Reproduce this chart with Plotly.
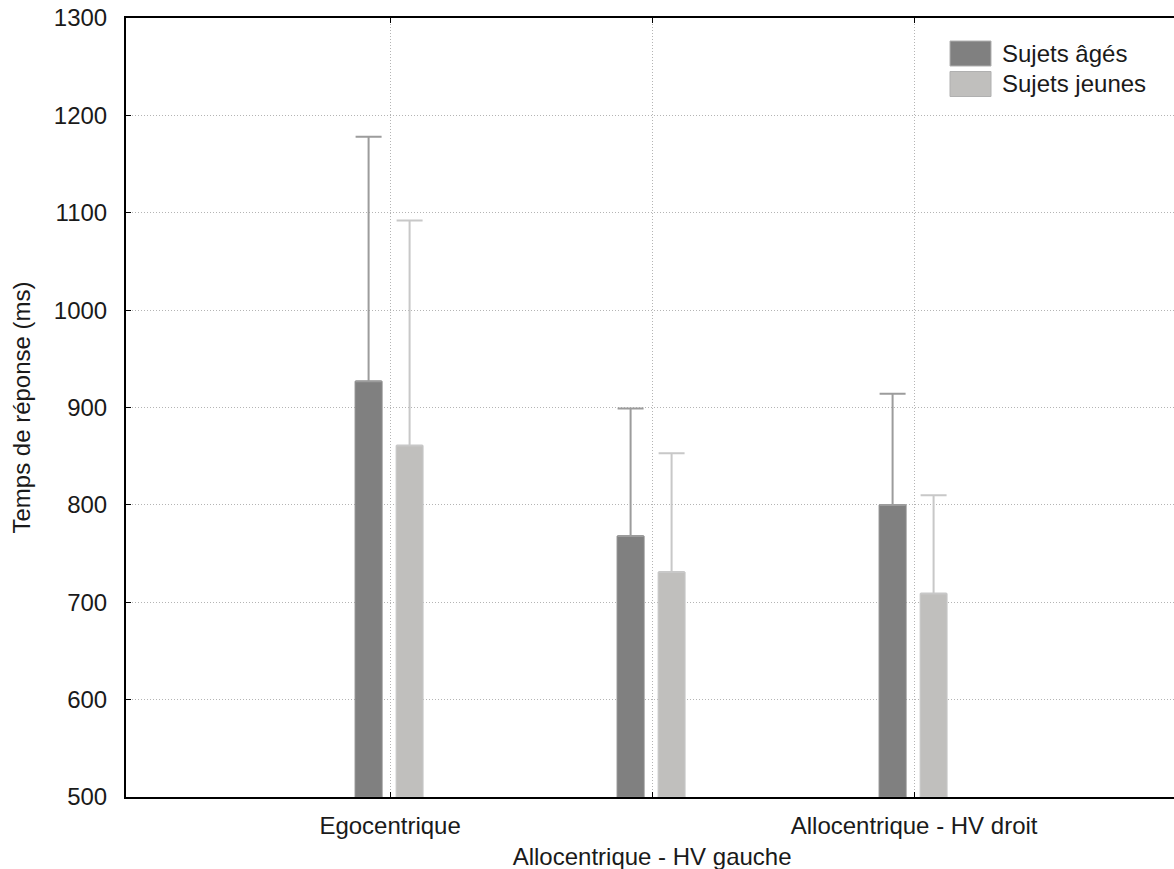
import plotly.graph_objects as go

# ---- data ----
categories = ["Egocentrique", "Allocentrique - HV gauche", "Allocentrique - HV droit"]
tick_text = ["Egocentrique", "<br>Allocentrique - HV gauche", "Allocentrique - HV droit"]
series_names = ["Sujets âgés", "Sujets jeunes"]
ages_values = [927, 768, 800]
ages_err = [251, 131, 114]
jeunes_values = [861, 731, 709]
jeunes_err = [231, 122, 101]
y_ticks = [500, 600, 700, 800, 900, 1000, 1100, 1200, 1300]

W, H = 1174, 869
L, R, T, B = 126, 0, 18, 72
FONT = "Liberation Sans, Arial, sans-serif"
FS = 24
TXT = "#1a1a1a"

xpos = list(range(len(categories)))
bar_w = 0.103

fig = go.Figure()
fig.add_trace(go.Bar(
    x=xpos, y=[v - 500 for v in ages_values], base=500, name=series_names[0],
    width=bar_w, offset=-0.1336,
    marker=dict(color="#808080", line=dict(color="#8c8c8c", width=1)),
    error_y=dict(type="data", array=ages_err, arrayminus=[0]*3, symmetric=False,
                 color="#9c9c9c", thickness=2, width=13),
    showlegend=False,
))
fig.add_trace(go.Bar(
    x=xpos, y=[v - 500 for v in jeunes_values], base=500, name=series_names[1],
    width=bar_w, offset=0.0229,
    marker=dict(color="#c0bfbd", line=dict(color="#c8c8c8", width=1)),
    error_y=dict(type="data", array=jeunes_err, arrayminus=[0]*3, symmetric=False,
                 color="#c8c8c8", thickness=2, width=13),
    showlegend=False,
))

pw = W - L - R
ph = H - T - B
def px_x(p):
    return (p - L) / pw
def px_y(p):
    return (H - B - p) / ph

# manual legend (large swatches like the reference)
shapes = []
annotations = []
sw_colors = ["#808080", "#c0bfbd"]
for i, (nm, col) in enumerate(zip(series_names, sw_colors)):
    top = 41 + i * 30.5
    shapes.append(dict(type="rect", xref="paper", yref="paper",
                       x0=px_x(950), x1=px_x(991), y0=px_y(top + 25), y1=px_y(top),
                       fillcolor=col, line=dict(color="#b0b0b0", width=1), layer="above"))
    annotations.append(dict(xref="paper", yref="paper", x=px_x(1000), y=px_y(top + 12.5),
                            text=nm, showarrow=False, xanchor="left", yanchor="middle",
                            font=dict(family=FONT, size=FS, color=TXT)))

grid_dash = "1px,2px"
fig.update_layout(
    width=W, height=H,
    margin=dict(l=L, r=R, t=T, b=B, pad=0, autoexpand=False),
    paper_bgcolor="white", plot_bgcolor="white",
    barmode="overlay",
    font=dict(family=FONT, size=FS, color=TXT),
    shapes=shapes, annotations=annotations,
    xaxis=dict(
        range=[-1.008, 2.992], tickmode="array", tickvals=xpos, ticktext=tick_text,
        tickangle=0,
        showgrid=True, gridcolor="#b4b4b4", griddash=grid_dash, gridwidth=1,
        ticks="inside", ticklen=5, tickcolor="#000", tickwidth=1,
        showline=True, linecolor="#000", linewidth=2, mirror="ticks",
        zeroline=False, ticklabelstandoff=6, automargin=False,
        tickfont=dict(family=FONT, size=FS, color=TXT),
    ),
    yaxis=dict(
        range=[500, 1300], tickmode="array", tickvals=y_ticks,
        showgrid=True, gridcolor="#b4b4b4", griddash=grid_dash, gridwidth=1,
        ticks="inside", ticklen=5, tickcolor="#000", tickwidth=1,
        showline=True, linecolor="#000", linewidth=2,
        zeroline=False, ticklabelstandoff=12, automargin=False,
        tickfont=dict(family=FONT, size=FS, color=TXT),
        title=dict(text="Temps de réponse (ms)", standoff=16,
                   font=dict(family=FONT, size=FS, color=TXT)),
    ),
)

fig.write_html(
    "out.html",
    config={"displayModeBar": False},
    post_script="document.body.style.margin='0';document.body.style.overflow='hidden';",
)
